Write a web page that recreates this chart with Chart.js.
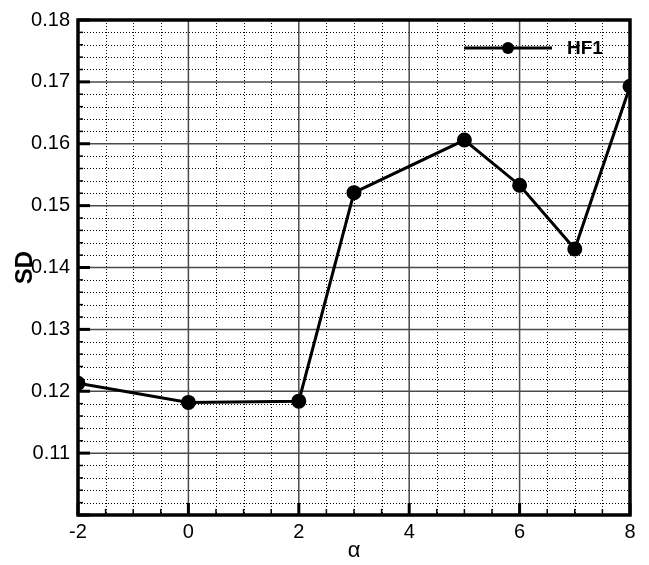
<!DOCTYPE html>
<html>
<head>
<meta charset="utf-8">
<script src="https://cdn.jsdelivr.net/npm/chart.js@4/dist/chart.umd.min.js"></script>
<style>
  html, body { margin: 0; padding: 0; background: #fff; }
  #wrap { width: 649px; height: 565px; }
</style>
</head>
<body>
<div id="wrap"><canvas id="chart" width="649" height="565"></canvas></div>
<script>
// values
const alphaValues = [-2, 0, 2, 3, 5, 6, 7, 8];
const sdValues = [0.1213, 0.1182, 0.1184, 0.1521, 0.1606, 0.1533, 0.1430, 0.1693];
const seriesName = "HF1";
const xTickStep = 2;
const yTickStep = 0.01;

const FONT = "'Liberation Sans', Arial, sans-serif";

// grid, frame, inward ticks and legend like the original plot
const frameGrid = {
  id: "frameGrid",
  beforeDatasetsDraw(chart) {
    const { ctx, chartArea: a, scales: { x, y } } = chart;
    ctx.save();
    // minor dotted
    ctx.strokeStyle = "#000";
    ctx.lineWidth = 1;
    ctx.setLineDash([1, 2]);
    for (let v = -2; v <= 8.001; v += 0.5) {
      if (Math.abs(v / 2 - Math.round(v / 2)) < 1e-6) continue;
      const px = Math.round(x.getPixelForValue(v)) + 0.5;
      ctx.beginPath(); ctx.moveTo(px, a.top); ctx.lineTo(px, a.bottom); ctx.stroke();
    }
    for (let k = 0; k <= 40; k++) {
      if (k % 5 === 0) continue;
      const py = Math.round(y.getPixelForValue(0.10 + k * 0.002)) + 0.5;
      ctx.beginPath(); ctx.moveTo(a.left, py); ctx.lineTo(a.right, py); ctx.stroke();
    }
    // major solid
    ctx.setLineDash([]);
    ctx.strokeStyle = "#4a4a4a";
    ctx.lineWidth = 1.5;
    for (let v = -2; v <= 8; v += 2) {
      const px = x.getPixelForValue(v);
      ctx.beginPath(); ctx.moveTo(px, a.top); ctx.lineTo(px, a.bottom); ctx.stroke();
    }
    for (let k = 0; k <= 8; k++) {
      const py = y.getPixelForValue(0.10 + k * 0.01);
      ctx.beginPath(); ctx.moveTo(a.left, py); ctx.lineTo(a.right, py); ctx.stroke();
    }
    // inward ticks
    ctx.strokeStyle = "#000";
    for (let v = -2; v <= 8.001; v += 0.5) {
      const major = Math.abs(v / 2 - Math.round(v / 2)) < 1e-6;
      const px = x.getPixelForValue(v);
      ctx.lineWidth = major ? 3 : 1.5;
      ctx.beginPath(); ctx.moveTo(px, a.bottom); ctx.lineTo(px, a.bottom - (major ? 12 : 6)); ctx.stroke();
    }
    for (let k = 0; k <= 40; k++) {
      const major = k % 5 === 0;
      const py = y.getPixelForValue(0.10 + k * 0.002);
      ctx.lineWidth = major ? 3 : 1.5;
      ctx.beginPath(); ctx.moveTo(a.left, py); ctx.lineTo(a.left + (major ? 12 : 5), py); ctx.stroke();
    }
    // frame
    ctx.lineWidth = 3.5;
    ctx.strokeRect(a.left, a.top, a.right - a.left, a.bottom - a.top);
    ctx.restore();
  },
  afterDatasetsDraw(chart) {
    const { ctx } = chart;
    ctx.save();
    ctx.strokeStyle = "#000";
    ctx.lineWidth = 3;
    ctx.beginPath(); ctx.moveTo(464, 48); ctx.lineTo(552, 48); ctx.stroke();
    ctx.beginPath(); ctx.arc(508, 48, 6, 0, Math.PI * 2); ctx.fillStyle = "#000"; ctx.fill();
    ctx.font = "bold 19px " + FONT;
    ctx.textBaseline = "middle";
    ctx.fillText(seriesName, 567, 49);
    ctx.restore();
  }
};

new Chart(document.getElementById("chart"), {
  type: "line",
  data: {
    datasets: [{
      label: seriesName,
      data: alphaValues.map((a, i) => ({ x: a, y: sdValues[i] })),
      borderColor: "#000",
      backgroundColor: "#000",
      borderWidth: 3,
      pointRadius: 6,
      pointHoverRadius: 6,
      tension: 0
    }]
  },
  options: {
    responsive: false,
    animation: false,
    layout: { padding: { top: 15, right: 19, left: 0, bottom: 0 } },
    plugins: { legend: { display: false }, tooltip: { enabled: false } },
    scales: {
      x: {
        type: "linear",
        min: -2,
        max: 8,
        grid: { display: false, drawTicks: false },
        border: { display: false },
        ticks: {
          stepSize: xTickStep,
          color: "#000",
          padding: 5,
          font: { family: FONT, size: 20 }
        },
        title: {
          display: true,
          text: "α",
          color: "#000",
          padding: { top: 0, bottom: 1 },
          font: { family: FONT, size: 22 }
        },
        afterFit(s) { s.height = 50; }
      },
      y: {
        min: 0.10,
        max: 0.18,
        grid: { display: false, drawTicks: false },
        border: { display: false },
        ticks: {
          stepSize: yTickStep,
          color: "#000",
          padding: 8,
          font: { family: FONT, size: 20 },
          callback: v => (v < 0.105 ? "" : v.toFixed(2))
        },
        title: {
          display: true,
          text: "SD",
          color: "#000",
          padding: { top: 11, bottom: 0 },
          font: { family: FONT, size: 24, weight: "bold" }
        },
        afterFit(s) { s.width = 78; }
      }
    }
  },
  plugins: [frameGrid]
});
</script>
</body>
</html>
